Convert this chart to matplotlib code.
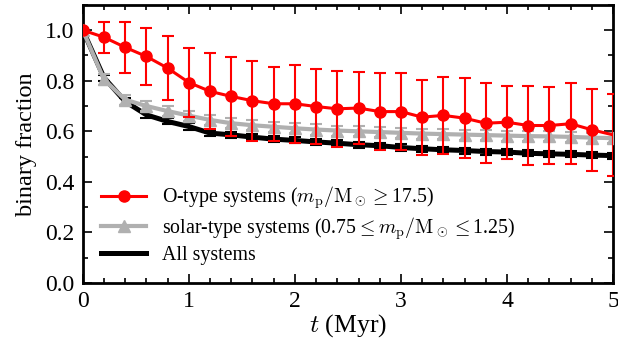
import numpy as np
import matplotlib
matplotlib.use('Agg')
import matplotlib.pyplot as plt
from matplotlib.ticker import MultipleLocator, FormatStrFormatter
from matplotlib.lines import Line2D

plt.rcParams['font.family'] = ['Liberation Serif', 'DejaVu Serif']
plt.rcParams['mathtext.fontset'] = 'cm'

# time in Myr, one snapshot every 0.2 Myr
t = np.arange(26) * 0.2

# O-type primaries
f_o = [1.0, 0.972, 0.932, 0.896, 0.850, 0.793, 0.758, 0.738, 0.721, 0.709,
       0.709, 0.698, 0.689, 0.692, 0.678, 0.678, 0.656, 0.663, 0.652, 0.632,
       0.636, 0.623, 0.623, 0.630, 0.606, 0.586]
err_o = [0.0, 0.062, 0.100, 0.113, 0.128, 0.137, 0.150, 0.156, 0.158, 0.146,
         0.154, 0.150, 0.151, 0.141, 0.152, 0.152, 0.148, 0.152, 0.159, 0.159,
         0.144, 0.157, 0.152, 0.161, 0.161, 0.161]

# solar-type primaries
f_sol = [1.0, 0.805, 0.725, 0.700, 0.680, 0.662, 0.645, 0.632, 0.624, 0.618,
         0.612, 0.607, 0.603, 0.600, 0.597, 0.594, 0.591, 0.589, 0.587, 0.585,
         0.583, 0.581, 0.580, 0.578, 0.575, 0.573]
err_sol = [0.0, 0.02, 0.02, 0.02, 0.02, 0.02, 0.02, 0.02, 0.02, 0.02,
           0.02, 0.02, 0.02, 0.02, 0.02, 0.02, 0.02, 0.02, 0.02, 0.02,
           0.02, 0.02, 0.02, 0.02, 0.02, 0.02]

# all systems
f_all = [1.0, 0.812, 0.718, 0.665, 0.639, 0.619, 0.593, 0.586, 0.577, 0.569,
         0.564, 0.558, 0.553, 0.547, 0.543, 0.536, 0.531, 0.527, 0.524, 0.520,
         0.518, 0.513, 0.511, 0.509, 0.506, 0.504]
err_all = [0.0, 0.012, 0.012, 0.012, 0.012, 0.012, 0.012, 0.012, 0.012, 0.012,
           0.012, 0.012, 0.012, 0.012, 0.012, 0.012, 0.012, 0.012, 0.012, 0.012,
           0.012, 0.012, 0.012, 0.012, 0.012, 0.012]

red = '#ff0000'
grey = '#b0b0b0'

fig = plt.figure(figsize=(6.18, 3.49), dpi=100)
ax = fig.add_axes([0.134, 0.189, 0.858, 0.797])

ax.errorbar(t, f_all, yerr=err_all, color='k', lw=3.6, elinewidth=1.5,
            capsize=4, capthick=1.5, zorder=2)
ax.errorbar(t, f_sol, yerr=err_sol, color=grey, lw=3, marker='^',
            ms=9, elinewidth=1.5, capsize=4, capthick=1.5, zorder=3)
ax.errorbar(t, f_o, yerr=err_o, color=red, lw=2.2, marker='o', ms=8,
            markevery=slice(0, 25), elinewidth=1.5, capsize=4, capthick=1.5,
            zorder=4)

ax.set_xlim(0, 5)
ax.set_ylim(0, 1.1)
ax.xaxis.set_major_locator(MultipleLocator(1))
ax.xaxis.set_minor_locator(MultipleLocator(0.2))
ax.yaxis.set_major_locator(MultipleLocator(0.2))
ax.yaxis.set_minor_locator(MultipleLocator(0.1))
ax.yaxis.set_major_formatter(FormatStrFormatter('%.1f'))
ax.tick_params(which='both', direction='in', top=True, right=True,
               labelsize=17, width=1.2, pad=6)
ax.tick_params(which='major', length=6.5)
ax.tick_params(which='minor', length=3.5)
for s in ax.spines.values():
    s.set_linewidth(2)

ax.set_xlabel(r'$t$ (Myr)', fontsize=18.5, labelpad=0)
ax.set_ylabel('binary fraction', fontsize=17.5, labelpad=6)

handles = [
    Line2D([], [], color=red, lw=2.2, marker='o', ms=8),
    Line2D([], [], color=grey, lw=3, marker='^', ms=9),
    Line2D([], [], color='k', lw=3.6),
]
labels = [
    r'O-type systems ($m_{\rm p}/{\rm M}_\odot \geq$17.5)',
    r'solar-type systems (0.75$\leq m_{\rm p}/{\rm M}_\odot \leq$1.25)',
    'All systems',
]
ax.legend(handles, labels, loc='lower left', frameon=False, fontsize=14.3,
          handlelength=2.3, handletextpad=0.8, borderaxespad=0.5,
          labelspacing=0.22)

fig.savefig('out.png', dpi=100)
